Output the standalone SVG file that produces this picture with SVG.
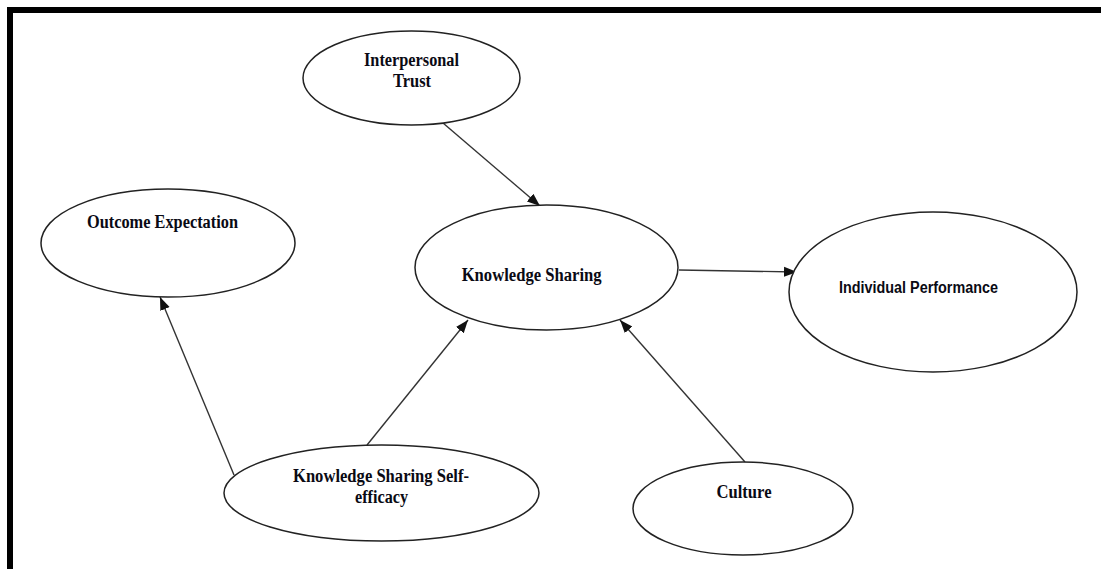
<svg xmlns="http://www.w3.org/2000/svg" width="1101" height="569" viewBox="0 0 1101 569">
<style>
.node ellipse{fill:#fff;stroke:#222;stroke-width:1.5}
.t{font-family:"Liberation Serif","Times New Roman",serif;font-weight:bold;font-size:18px;fill:#0a0a14;text-anchor:middle}
.s{font-family:"Liberation Sans",Arial,sans-serif;font-weight:bold;font-size:16px;fill:#0a0a14;text-anchor:middle}
#connectors line{stroke:#333;stroke-width:1.4;marker-end:url(#arr)}
</style>
<defs>
<marker id="arr" markerUnits="userSpaceOnUse" markerWidth="14" markerHeight="12" viewBox="0 0 14 12" refX="13" refY="6" orient="auto">
<path d="M0,1 L13,6 L0,11 Z" fill="#111"/>
</marker>
</defs>
<rect x="0" y="0" width="1101" height="569" fill="#fff"/>
<rect x="7" y="7" width="1094" height="6" fill="#000"/>
<rect x="7" y="7" width="6" height="562" fill="#000"/>
<g id="connectors">
<line x1="443" y1="123" x2="540" y2="206"/>
<line x1="679" y1="270" x2="797" y2="272"/>
<line x1="234" y1="475" x2="160" y2="297"/>
<line x1="367" y1="445" x2="468" y2="320"/>
<line x1="745" y1="462" x2="620" y2="320"/>
</g>
<g id="interpersonal-trust" class="node">
<ellipse cx="411.5" cy="78" rx="108.5" ry="47"/>
<text class="t" x="411.5" y="66" textLength="95" lengthAdjust="spacingAndGlyphs">Interpersonal</text>
<text class="t" x="412" y="87" textLength="38" lengthAdjust="spacingAndGlyphs">Trust</text>
</g>
<g id="outcome-expectation" class="node">
<ellipse cx="168" cy="243" rx="127" ry="54"/>
<text class="t" x="162.5" y="228" textLength="151" lengthAdjust="spacingAndGlyphs">Outcome Expectation</text>
</g>
<g id="knowledge-sharing" class="node">
<ellipse cx="546.5" cy="267.5" rx="131.5" ry="62.5"/>
<text class="t" x="531.7" y="281" textLength="140" lengthAdjust="spacingAndGlyphs">Knowledge Sharing</text>
</g>
<g id="individual-performance" class="node">
<ellipse cx="933" cy="292" rx="144" ry="80"/>
<text class="s" x="918.5" y="293" textLength="159" lengthAdjust="spacingAndGlyphs">Individual Performance</text>
</g>
<g id="ks-self-efficacy" class="node">
<ellipse cx="381.5" cy="493" rx="157.5" ry="48"/>
<text class="t" x="381" y="482" textLength="176" lengthAdjust="spacingAndGlyphs">Knowledge Sharing Self-</text>
<text class="t" x="381.5" y="502.5" textLength="53" lengthAdjust="spacingAndGlyphs">efficacy</text>
</g>
<g id="culture" class="node">
<ellipse cx="743" cy="508.5" rx="110" ry="46.5"/>
<text class="t" x="744" y="498" textLength="55" lengthAdjust="spacingAndGlyphs">Culture</text>
</g>
</svg>
